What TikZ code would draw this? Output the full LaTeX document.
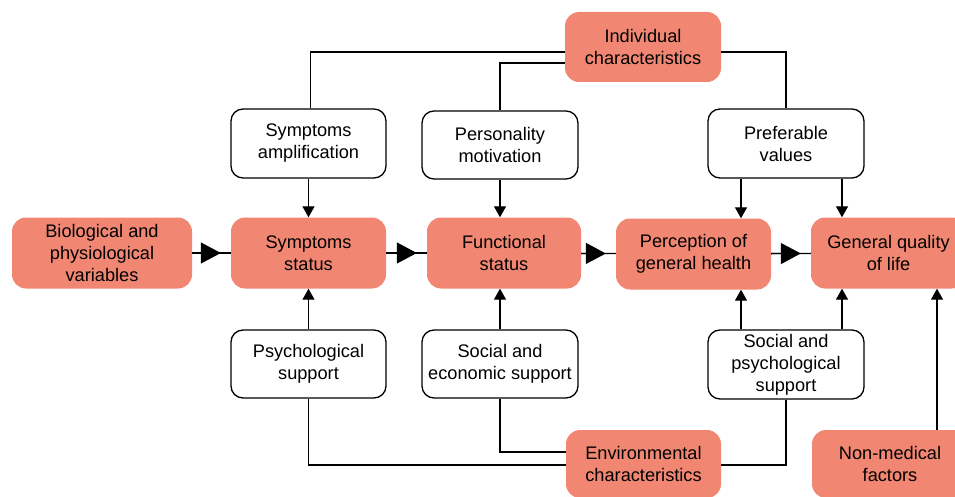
\documentclass[tikz,border=0pt]{standalone}
\usepackage{fontspec}
\setmainfont{Liberation Sans}
\usetikzlibrary{arrows.meta}
\definecolor{salmon}{RGB}{241,135,115}
\begin{document}
\begin{tikzpicture}[x=1pt,y=-1pt,
  base/.style={align=center, font=\fontsize{18.2}{22}\selectfont, inner sep=0pt},
  mainbox/.style={base, fill=salmon, draw=none, rounded corners=14pt},
  sidebox/.style={base, draw=black, line width=1.3pt, fill=white, rounded corners=12pt},
  conn/.style={line width=1.3pt},
  arr/.style={conn, -{Triangle[length=11pt,width=12pt]}},
  bigarr/.style={conn, -{Triangle[length=20pt,width=21pt]}, shorten >=10pt},
]
\useasboundingbox (0,0) rectangle (955,497);
\clip (0,0) rectangle (955,497);
% main boxes
\node[mainbox, minimum width=156pt, minimum height=70pt] (ic) at (643,47) {Individual\\characteristics};
\node[mainbox, minimum width=180pt, minimum height=71pt] (bio) at (102,253) {Biological and\\physiological\\variables};
\node[mainbox, minimum width=155pt, minimum height=71pt] (ss) at (308.5,253) {Symptoms\\status};
\node[mainbox, minimum width=154pt, minimum height=71pt] (fs) at (504,253) {Functional\\status};
\node[mainbox, minimum width=155pt, minimum height=71pt] (pgh) at (693.5,254) {Perception of\\general health};
\node[mainbox, minimum width=155pt, minimum height=71pt] (gq) at (888.5,253) {General quality\\of life};
\node[mainbox, minimum width=155pt, minimum height=68pt] (ec) at (643.5,464) {Environmental\\characteristics};
\node[mainbox, minimum width=156pt, minimum height=68pt] (nm) at (890,464) {Non-medical\\factors};
% side boxes
\node[sidebox, minimum width=155pt, minimum height=69pt] (sa) at (308.5,143.5) {Symptoms\\amplification};
\node[sidebox, minimum width=156pt, minimum height=68pt] (pm) at (500,145) {Personality\\motivation};
\node[sidebox, minimum width=156pt, minimum height=69pt] (pv) at (786,143.5) {Preferable\\values};
\node[sidebox, minimum width=155pt, minimum height=68pt] (ps) at (308.5,364) {Psychological\\support};
\node[sidebox, minimum width=156pt, minimum height=68pt] (se) at (500,364) {Social and\\economic support};
\node[sidebox, minimum width=156pt, minimum height=69pt] (sp) at (786,364.5) {Social and\\psychological\\support};
% main row arrows
\foreach \a/\b in {bio/ss, ss/fs, fs/pgh, pgh/gq}{
  \draw[conn] (\a) -- (\b);
  \draw[bigarr] (\a) -- (\b);
}
% individual characteristics lines
\draw[conn] ([yshift=-5pt]ic.west) -| ([xshift=2pt]sa.north);
\draw[conn] ([yshift=-16pt]ic.west) -| (pm.north);
\draw[conn] ([yshift=-5pt]ic.east) -| (pv.north);
% top arrows
\draw[arr] (sa.south) -- (sa.south |- ss.north);
\draw[arr] (pm.south) -- (pm.south |- fs.north);
\draw[arr] ([xshift=-45pt]pv.south) -- ([xshift=-45pt]pv.south |- pgh.north);
\draw[arr] ([xshift=56pt]pv.south) -- ([xshift=56pt]pv.south |- gq.north);
% bottom arrows
\draw[arr] (ps.north) -- (ps.north |- ss.south);
\draw[arr] (se.north) -- (se.north |- fs.south);
\draw[arr] ([xshift=-45pt]sp.north) -- ([xshift=-45pt]sp.north |- pgh.south);
\draw[arr] ([xshift=56pt]sp.north) -- ([xshift=56pt]sp.north |- gq.south);
\draw[arr] ([xshift=47pt]nm.north) -- ([xshift=47pt]nm.north |- gq.south);
% environmental lines
\draw[conn] (ps.south) |- ([yshift=-1pt]ec.west);
\draw[conn] (se.south) |- ([yshift=12pt]ec.west);
\draw[conn] (sp.south) |- ([yshift=-1pt]ec.east);
\end{tikzpicture}
\end{document}
